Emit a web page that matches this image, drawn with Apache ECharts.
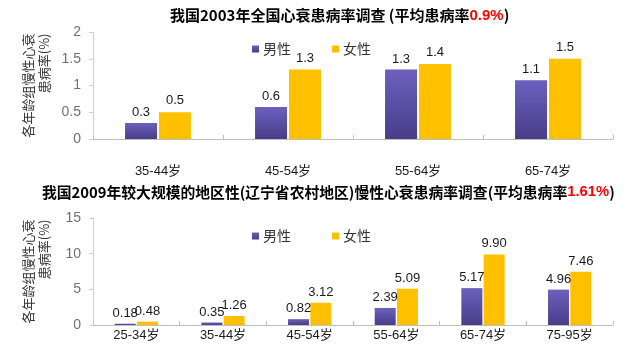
<!DOCTYPE html>
<html>
<head>
<meta charset="utf-8">
<script src="https://cdn.jsdelivr.net/npm/echarts@6/dist/echarts.min.js"></script>
<style>html,body{margin:0;padding:0;background:#fff;}#c{width:633px;height:355px;}</style>
</head>
<body>
<div id="c"></div>
<script>
// Chart 1: 2003 national survey
const cats2003 = ['35-44岁', '45-54岁', '55-64岁', '65-74岁'];
const male2003 = [0.3, 0.6, 1.3, 1.1];
const female2003 = [0.5, 1.3, 1.4, 1.5];
const yTicks2003 = { min: 0, max: 2, interval: 0.5 };

// Chart 2: 2009 Liaoning rural survey
const cats2009 = ['25-34岁', '35-44岁', '45-54岁', '55-64岁', '65-74岁', '75-95岁'];
const male2009 = [0.18, 0.35, 0.82, 2.39, 5.17, 4.96];
const female2009 = [0.48, 1.26, 3.12, 5.09, 9.90, 7.46];
const yTicks2009 = { min: 0, max: 15, interval: 5 };

const seriesNames = ['男性', '女性'];
const title2003 = ['我国2003年全国心衰患病率调查 (平均患病率', '0.9%', ')'];
const title2009 = ['我国2009年较大规模的地区性(辽宁省农村地区)慢性心衰患病率调查(平均患病率', '1.61%', ')'];
const yName = ['各年龄组慢性心衰', '患病率(%)'];

const FONT = '"Liberation Sans", "Noto Sans CJK SC", sans-serif';
const CJK = '"Noto Sans CJK SC", sans-serif';
const maleColor = new echarts.graphic.LinearGradient(0, 0, 0, 1, [
  { offset: 0, color: '#6C60BE' }, { offset: 1, color: '#483D88' }
]);
const femaleColor = '#FFC000';

const chart = echarts.init(document.getElementById('c'), null, { renderer: 'canvas' });

function titleOpt(parts, left, top, size) {
  return {
    left: left, top: top,
    text: '{a|' + parts[0] + '}{r|' + parts[1] + '}{a|' + parts[2] + '}',
    textStyle: {
      rich: {
        a: { fontFamily: CJK, fontWeight: 'bold', fontSize: size, color: '#000' },
        r: { fontFamily: FONT, fontWeight: 'bold', fontSize: size, color: '#FF0000' }
      }
    }
  };
}

function xAxisOpt(idx, cats, margin) {
  return {
    type: 'category', gridIndex: idx, data: cats,
    axisLine: { lineStyle: { color: '#BFBFBF', width: 1 } },
    axisTick: { show: true, inside: true, length: 4, alignWithLabel: false, lineStyle: { color: '#BFBFBF' } },
    axisLabel: { margin: margin, color: '#1a1a1a', fontSize: 13, fontFamily: FONT }
  };
}

function yAxisOpt(idx, t) {
  return {
    type: 'value', gridIndex: idx, min: t.min, max: t.max, interval: t.interval,
    splitLine: { show: false },
    axisLine: { show: true, lineStyle: { color: '#D0D0D0', width: 1 } },
    axisTick: { show: true, length: 4, lineStyle: { color: '#D0D0D0' } },
    axisLabel: { margin: 12, color: '#707070', fontSize: 14, fontFamily: FONT },
    name: '{a|' + yName[0] + '}\n{b|' + yName[1] + '}',
    nameLocation: 'middle', nameRotate: 90, nameGap: 41,
    nameTextStyle: {
      rich: {
        a: { fontFamily: CJK, fontSize: 13, color: '#333', lineHeight: 16 },
        b: { fontFamily: CJK, fontSize: 13, color: '#333', lineHeight: 16, align: 'right' }
      }
    }
  };
}

function barSeries(name, idx, data, color, width, dist) {
  return {
    name: name, type: 'bar', xAxisIndex: idx, yAxisIndex: idx, data: data,
    barWidth: width, barGap: '6%',
    itemStyle: { color: color },
    label: {
      show: true, position: 'top', distance: dist, color: '#1a1a1a', fontSize: 13, fontFamily: FONT,
      formatter: idx === 1 ? (p => p.value.toFixed(2)) : (p => p.value)
    }
  };
}

function legendOpt(top) {
  return {
    data: seriesNames, left: 247, top: top, itemWidth: 7, itemHeight: 7, itemGap: 41,
    icon: 'rect',
    textStyle: { fontFamily: CJK, fontSize: 14, color: '#333', padding: [0, 0, 0, -1] }
  };
}

chart.setOption({
  animation: false,
  backgroundColor: '#fff',
  title: [titleOpt(title2003, 165, 3, 15), titleOpt(title2009, 37, 180, 14.8)],
  legend: [legendOpt(37), legendOpt(224)],
  grid: [
    { left: 93, right: 20, top: 32, height: 107 },
    { left: 93, right: 20, top: 218, height: 107 }
  ],
  xAxis: [xAxisOpt(0, cats2003, 26), xAxisOpt(1, cats2009, 4)],
  yAxis: [yAxisOpt(0, yTicks2003), yAxisOpt(1, yTicks2009)],
  series: [
    barSeries(seriesNames[0], 0, male2003, maleColor, 32, 4),
    barSeries(seriesNames[1], 0, female2003, femaleColor, 32, 5),
    barSeries(seriesNames[0], 1, male2009, maleColor, 21, 4),
    barSeries(seriesNames[1], 1, female2009, femaleColor, 21, 4)
  ]
});
</script>
</body>
</html>
